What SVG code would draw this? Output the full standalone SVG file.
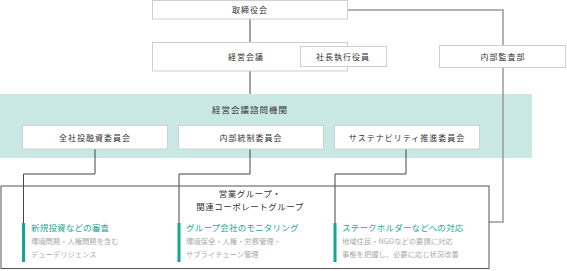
<svg xmlns="http://www.w3.org/2000/svg" width="567" height="271" viewBox="0 0 567 271">
<style>
text{font-family:"Noto Sans CJK JP","Noto Sans",sans-serif;}
.box{fill:#fff;stroke:#cfcfcf;stroke-width:1;}
.lbl{font-size:8px;fill:#333;text-anchor:middle;letter-spacing:1px;}
.ttl{font-size:8.5px;fill:#1aa898;letter-spacing:0.2px;}
.sub{font-size:7.3px;fill:#aaa;}
.bar{fill:#16a592;}
.ln{fill:none;stroke:#444;stroke-width:1;}
.lg{fill:none;stroke:#999;stroke-width:1.5;}
</style>
<rect x="0" y="94" width="532" height="64" fill="#c9e8e3"/>
<g id="connectors">
<path class="ln" d="M250 19V42M250 71V94"/>
<path class="lg" d="M348 10H503V222H489"/>
<path class="ln" d="M95 149V174H23.5V223M250 149V174H179V223M406 149V174H335V223"/>
</g>
<g id="board"><rect class="box" x="152.5" y="0.5" width="195" height="18.5"/><text class="lbl" x="250" y="12.5">取締役会</text></g>
<g id="mgmt"><rect class="box" x="152.5" y="42.5" width="195" height="28.5"/><text class="lbl" x="246" y="60">経営会議</text></g>
<g id="president"><rect class="box" x="300.5" y="46.5" width="86" height="20"/><text class="lbl" x="343" y="59.5">社長執行役員</text></g>
<g id="audit"><rect class="box" x="439.5" y="45.5" width="126" height="22"/><text class="lbl" x="503" y="59.5">内部監査部</text></g>
<g id="advisory"><text class="lbl" x="250" y="113" style="font-size:8.5px">経営会議諮問機関</text></g>
<g id="c1"><rect class="box" x="22.5" y="125.5" width="145" height="23.5"/><text class="lbl" x="95" y="140.5">全社投融資委員会</text></g>
<g id="c2"><rect class="box" x="178.5" y="125.5" width="145" height="23.5"/><text class="lbl" x="251" y="140.5">内部統制委員会</text></g>
<g id="c3"><rect class="box" x="334.5" y="125.5" width="145" height="23.5"/><text class="lbl" x="407" y="140.5">サステナビリティ推進委員会</text></g>
<g id="group">
<rect x="1" y="186" width="488" height="82.5" fill="none" stroke="#555" stroke-width="1"/>
<text class="lbl" x="250" y="197" style="font-size:8.5px;letter-spacing:0.5px">営業グループ・</text>
<text class="lbl" x="250" y="210" style="font-size:8.5px;letter-spacing:0.5px">関連コーポレートグループ</text>
</g>
<g id="col1"><rect class="bar" x="22" y="223" width="3" height="39"/>
<text class="ttl" x="31" y="231">新規投資などの審査</text>
<text class="sub" x="31" y="243.5">環境問題・人権問題を含む</text>
<text class="sub" x="31" y="256.5">デューデリジェンス</text></g>
<g id="col2"><rect class="bar" x="177.5" y="223" width="3" height="39"/>
<text class="ttl" x="186" y="231">グループ会社のモニタリング</text>
<text class="sub" x="186" y="243.5">環境保全・人権・労務管理・</text>
<text class="sub" x="186" y="256.5">サプライチェーン管理</text></g>
<g id="col3"><rect class="bar" x="333.5" y="223" width="3" height="39"/>
<text class="ttl" x="342" y="231">ステークホルダーなどへの対応</text>
<text class="sub" x="342" y="243.5">地域住民・NGOなどの要請に対応</text>
<text class="sub" x="342" y="256.5">事態を把握し、必要に応じ状況改善</text></g>
</svg>
